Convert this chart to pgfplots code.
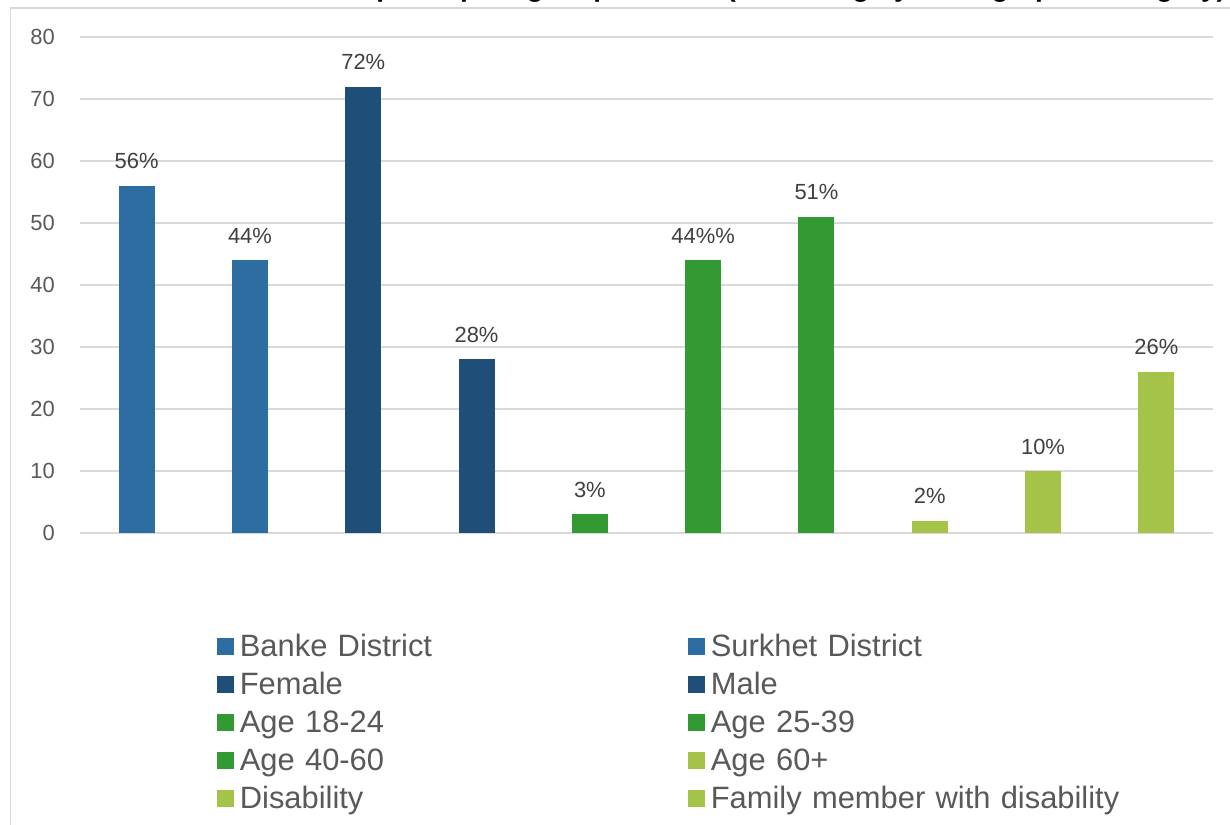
\documentclass[border=0pt]{standalone}
\usepackage{pgfplots}
\pgfplotsset{compat=1.18}
\usepackage{fontspec}
\setmainfont{Liberation Sans}
\definecolor{cBlue}{HTML}{2E6DA1}
\definecolor{cDark}{HTML}{1F4E79}
\definecolor{cGreen}{HTML}{339933}
\definecolor{cLime}{HTML}{A5C249}
\definecolor{cGrid}{HTML}{D9D9D9}
\definecolor{cTick}{HTML}{595959}
\definecolor{cLab}{HTML}{404040}
\begin{document}
\begin{tikzpicture}
\useasboundingbox (0,0) rectangle (1230bp,825bp);
\clip (0,0) rectangle (1230bp,825bp);
\fill[white] (0,0) rectangle (1230bp,825bp);
\draw[cGrid, line width=1.5bp] (10.5bp,-10bp) |- (1240bp,817bp);
\node[anchor=base east, inner sep=0pt, font=\fontsize{28}{32}\selectfont\bfseries] at (1226bp,828.5bp)
  {Profile of participating respondents (according by demographic category)};
\begin{axis}[
  at={(80bp,292bp)}, anchor=south west,
  scale only axis, width=1133bp, height=496bp,
  xmin=-0.5, xmax=9.5, ymin=0, ymax=80,
  ytick={0,10,...,80}, xtick=\empty,
  /pgf/number format/assume math mode=true,
  ymajorgrids, grid style={cGrid, line width=1.4bp},
  axis line style={draw=none}, major tick length=0pt,
  yticklabel style={font=\fontsize{22}{26}\selectfont, text=cTick, inner sep=0pt, xshift=-25bp, anchor=east},
  ybar, bar width=36bp, bar shift=0pt,
  point meta=explicit symbolic,
  nodes near coords,
  every node near coord/.append style={font=\fontsize{22}{26}\selectfont, text=cLab, anchor=base, inner sep=0pt, yshift=17bp},
  every axis plot post/.append style={legend image code/.code={\fill[##1, draw=none] (0bp,-6bp) rectangle (17bp,11bp); \path (23bp,0bp);}},
  legend columns=2,
  legend style={at={(0.1208,-0.205)}, anchor=north west, draw=none, fill=none, inner sep=0pt, outer sep=0pt,
     row sep=9bp, column sep=0pt,
     nodes={inner sep=0pt, text width=448bp, align=left, text height=22bp, text depth=7bp,
            font=\fontsize{31}{36}\selectfont, text=cTick}},
  legend cell align=left,
]
\addplot[fill=cBlue, draw=none] coordinates {(0,56) [56\%]};
\addplot[fill=cBlue, draw=none] coordinates {(1,44) [44\%]};
\addplot[fill=cDark, draw=none] coordinates {(2,72) [72\%]};
\addplot[fill=cDark, draw=none] coordinates {(3,28) [28\%]};
\addplot[fill=cGreen, draw=none] coordinates {(4,3) [3\%]};
\addplot[fill=cGreen, draw=none] coordinates {(5,44) [44\%\%]};
\addplot[fill=cGreen, draw=none] coordinates {(6,51) [51\%]};
\addplot[fill=cLime, draw=none] coordinates {(7,2) [2\%]};
\addplot[fill=cLime, draw=none] coordinates {(8,10) [10\%]};
\addplot[fill=cLime, draw=none] coordinates {(9,26) [26\%]};
\legend{Banke District, Surkhet District, Female, Male, Age 18-24, Age 25-39, Age 40-60, Age 60+, Disability, Family member with disability}
\end{axis}
\end{tikzpicture}
\end{document}
